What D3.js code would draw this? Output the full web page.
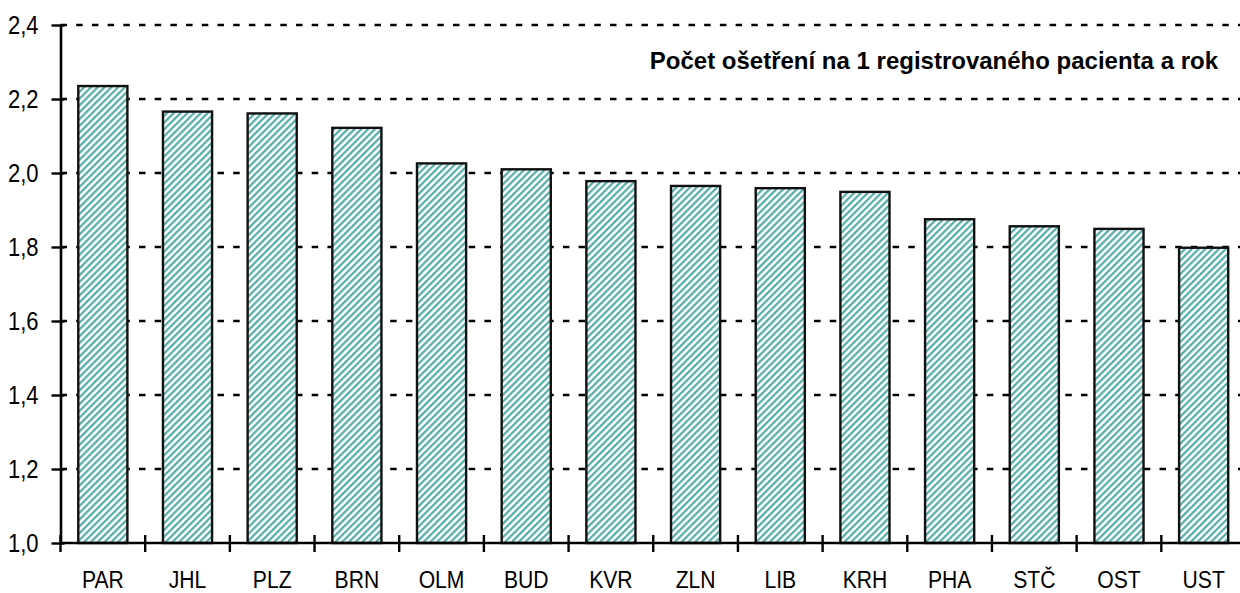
<!DOCTYPE html>
<html>
<head>
<meta charset="utf-8">
<script src="https://cdn.jsdelivr.net/npm/d3@7"></script>
<style>
  body { margin: 0; background: #fff; }
  text { font-family: "Liberation Sans", Arial, sans-serif; }
</style>
</head>
<body>
<script>
// regions and treatments per registered patient per year
var regions = ["PAR", "JHL", "PLZ", "BRN", "OLM", "BUD", "KVR", "ZLN", "LIB", "KRH", "PHA", "STČ", "OST", "UST"];
var values = [2.235, 2.166, 2.161, 2.122, 2.026, 2.010, 1.978, 1.965, 1.959, 1.949, 1.875, 1.856, 1.849, 1.798];
var yTicks = [1.0, 1.2, 1.4, 1.6, 1.8, 2.0, 2.2, 2.4];
var title = "Počet ošetření na 1 registrovaného pacienta a rok";

var width = 1240, height = 593;
var margin = {left: 60.5, right: 1246, top: 25, bottom: 543};
var narrow = 0.88; // the labels look condensed in the original

var svg = d3.select("body").append("svg")
    .attr("width", width)
    .attr("height", height);

// hatch pattern for the bars
var defs = svg.append("defs");
var pat = defs.append("pattern")
    .attr("id", "hatch")
    .attr("patternUnits", "userSpaceOnUse")
    .attr("width", 4.8)
    .attr("height", 4.8)
    .attr("patternTransform", "rotate(45)");
pat.append("rect").attr("width", 4.8).attr("height", 4.8).attr("fill", "#fff");
pat.append("line")
    .attr("x1", 1.2).attr("y1", 0)
    .attr("x2", 1.2).attr("y2", 4.8)
    .attr("stroke", "#4aa7a3")
    .attr("stroke-width", 2.1);

var x = d3.scaleBand()
    .domain(regions)
    .range([margin.left, margin.right])
    .paddingInner(0.42)
    .paddingOuter(0.21);

var y = d3.scaleLinear()
    .domain([1.0, 2.4])
    .range([margin.bottom, margin.top]);

// dotted grid lines
svg.append("g")
    .selectAll("line")
    .data(yTicks.filter(function(d) { return d > 1.0; }))
    .enter()
    .append("line")
    .attr("x1", margin.left)
    .attr("x2", width)
    .attr("y1", function(d) { return y(d); })
    .attr("y2", function(d) { return y(d); })
    .attr("stroke", "#000")
    .attr("stroke-width", 2.6)
    .attr("stroke-dasharray", "6.5,9.2");

// bars
svg.append("g")
    .selectAll("rect")
    .data(values)
    .enter()
    .append("rect")
    .attr("x", function(d, i) { return x(regions[i]); })
    .attr("y", function(d) { return y(d); })
    .attr("width", x.bandwidth())
    .attr("height", function(d) { return margin.bottom - y(d); })
    .attr("fill", "url(#hatch)")
    .attr("stroke", "#111")
    .attr("stroke-width", 2.4);

// y axis
var yAxis = svg.append("g")
    .attr("transform", "translate(" + margin.left + ",0)")
    .call(d3.axisLeft(y)
        .tickValues(yTicks)
        .tickSizeInner(9)
        .tickSizeOuter(0)
        .tickPadding(13)
        .tickFormat(function(d) { return d.toFixed(1).replace(".", ","); }));
yAxis.select(".domain").attr("stroke", "#000").attr("stroke-width", 2.6);
yAxis.selectAll(".tick line").attr("x2", -9).attr("x1", 4).attr("stroke-width", 2.4);
yAxis.selectAll(".tick text")
    .attr("font-size", 25)
    .attr("fill", "#000")
    .attr("x", -22 / narrow)
    .attr("transform", "scale(" + narrow + ",1)")
    .style("font-family", "'Liberation Sans', Arial, sans-serif");

// x axis
svg.append("line")
    .attr("x1", margin.left - 1)
    .attr("x2", width)
    .attr("y1", margin.bottom)
    .attr("y2", margin.bottom)
    .attr("stroke", "#000")
    .attr("stroke-width", 2.6);

var step = x.step();
var bounds = regions.map(function(d) { return x(d) + x.bandwidth() / 2 - step / 2; });
svg.append("g")
    .selectAll("line")
    .data(bounds)
    .enter()
    .append("line")
    .attr("x1", function(d) { return d; })
    .attr("x2", function(d) { return d; })
    .attr("y1", margin.bottom - 8)
    .attr("y2", margin.bottom + 9)
    .attr("stroke", "#000")
    .attr("stroke-width", 2.4);

svg.append("g")
    .selectAll("text")
    .data(regions)
    .enter()
    .append("text")
    .attr("transform", function(d) {
        return "translate(" + (x(d) + x.bandwidth() / 2) + ",588) scale(" + narrow + ",1)";
    })
    .attr("text-anchor", "middle")
    .attr("font-size", 24)
    .text(function(d) { return d; });

// title
svg.append("text")
    .attr("x", 1218)
    .attr("y", 69)
    .attr("text-anchor", "end")
    .attr("font-size", 24)
    .attr("font-weight", "bold")
    .text(title);
</script>
</body>
</html>
